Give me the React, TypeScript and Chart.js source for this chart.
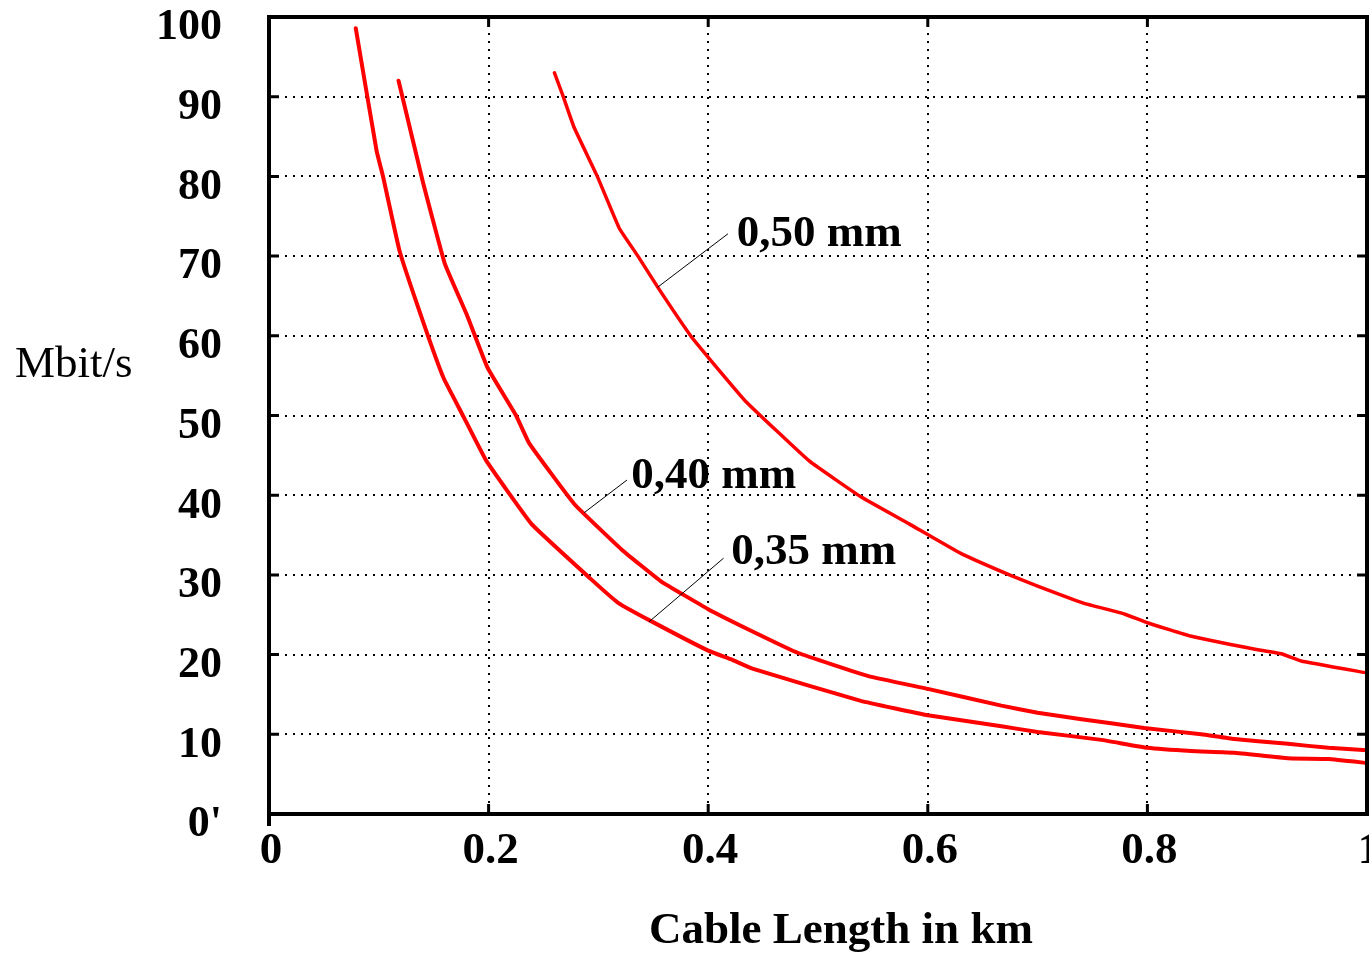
import React, { useEffect, useRef } from "react";
import { Chart, registerables } from "chart.js";

Chart.register(...registerables);

// ---- Axis ticks ----
const xTickValues = [0, 0.2, 0.4, 0.6, 0.8, 1];
const xTickLabels = ["0", "0.2", "0.4", "0.6", "0.8", "1"];
const yTickValues = [0, 10, 20, 30, 40, 50, 60, 70, 80, 90, 100];
const yTickLabels = ["0'", "10", "20", "30", "40", "50", "60", "70", "80", "90", "100"];

const xTitle = "Cable Length in km";
const yTitle = "Mbit/s";

// ---- Series (cable length in km -> data rate in Mbit/s) ----
const seriesNames = ["0,35 mm", "0,40 mm", "0,50 mm"];

const len035 = [0.079, 0.098, 0.104, 0.119, 0.141, 0.159, 0.177, 0.198, 0.239, 0.293, 0.318, 0.348, 0.4, 0.421, 0.441, 0.539, 0.6, 0.667, 0.7, 0.758, 0.8, 0.84, 0.879, 0.928, 0.965, 1.0];
const rate035 = [98.6, 83.2, 79.9, 70.6, 61.5, 54.7, 49.9, 44.3, 36.4, 29.5, 26.5, 24.2, 20.5, 19.4, 18.2, 14.2, 12.4, 11.0, 10.3, 9.3, 8.3, 7.9, 7.7, 7.0, 6.9, 6.4];

const len040 = [0.118, 0.14, 0.16, 0.18, 0.199, 0.225, 0.237, 0.278, 0.321, 0.357, 0.4, 0.439, 0.482, 0.546, 0.6, 0.667, 0.7, 0.74, 0.797, 0.849, 0.879, 0.928, 0.965, 1.0];
const rate040 = [92.0, 79.4, 69.1, 62.7, 56.0, 50.0, 46.5, 38.9, 33.2, 29.2, 25.7, 23.0, 20.2, 17.3, 15.7, 13.6, 12.7, 11.9, 10.8, 10.0, 9.4, 8.8, 8.3, 8.0];

const len050 = [0.26, 0.268, 0.278, 0.299, 0.319, 0.336, 0.354, 0.384, 0.4, 0.434, 0.492, 0.539, 0.583, 0.63, 0.676, 0.7, 0.741, 0.779, 0.8, 0.84, 0.897, 0.922, 0.94, 1.0];
const rate050 = [93.0, 90.0, 86.1, 80.0, 73.5, 70.0, 66.1, 60.0, 57.3, 51.8, 44.3, 39.8, 36.4, 32.7, 29.9, 28.6, 26.5, 25.1, 24.0, 22.3, 20.7, 20.1, 19.2, 17.7];

// ---- Curve labels with leader lines (data coordinates) ----
const labelTextX = [0.421, 0.33, 0.426];
const labelTextY = [31.4, 40.9, 71.3];
const leaderFromX = [0.414, 0.326, 0.418];
const leaderFromY = [32.1, 41.9, 72.8];
const leaderToX = [0.346, 0.287, 0.354];
const leaderToY = [24.1, 37.8, 66.1];

const FONT = "'Liberation Serif', 'Times New Roman', Times, serif";
const RED = "#ff0000";

function toPoints(xs: number[], ys: number[]) {
  return xs.map((x, i) => ({ x, y: ys[i] }));
}

const framePlugin = {
  id: "frame",
  afterDatasetsDraw(chart: any) {
    const { ctx, chartArea, scales } = chart;
    const { left, right, top, bottom } = chartArea;
    ctx.save();
    ctx.strokeStyle = "#000";
    ctx.lineWidth = 3;
    // inward major tick marks
    const tl = 10;
    xTickValues.forEach((v) => {
      if (v === xTickValues[0] || v === xTickValues[xTickValues.length - 1]) return;
      const px = scales.x.getPixelForValue(v);
      ctx.beginPath();
      ctx.moveTo(px, bottom);
      ctx.lineTo(px, bottom - tl);
      ctx.moveTo(px, top);
      ctx.lineTo(px, top + tl);
      ctx.stroke();
    });
    yTickValues.forEach((v) => {
      if (v === yTickValues[0] || v === yTickValues[yTickValues.length - 1]) return;
      const py = scales.y.getPixelForValue(v);
      ctx.beginPath();
      ctx.moveTo(left, py);
      ctx.lineTo(left + tl, py);
      ctx.moveTo(right, py);
      ctx.lineTo(right - tl, py);
      ctx.stroke();
    });
    // frame
    ctx.lineWidth = 4;
    ctx.beginPath();
    ctx.moveTo(left, top);
    ctx.lineTo(right, top);
    ctx.lineTo(right, bottom);
    ctx.lineTo(left, bottom);
    ctx.closePath();
    ctx.stroke();
    ctx.beginPath();
    ctx.moveTo(left, bottom);
    ctx.lineTo(left, bottom + 12);
    ctx.stroke();

    // leader lines
    ctx.lineWidth = 1;
    for (let i = 0; i < seriesNames.length; i++) {
      ctx.beginPath();
      ctx.moveTo(scales.x.getPixelForValue(leaderFromX[i]), scales.y.getPixelForValue(leaderFromY[i]));
      ctx.lineTo(scales.x.getPixelForValue(leaderToX[i]), scales.y.getPixelForValue(leaderToY[i]));
      ctx.stroke();
    }
    // curve labels
    ctx.fillStyle = "#000";
    ctx.font = `bold 45px ${FONT}`;
    ctx.textAlign = "left";
    ctx.textBaseline = "alphabetic";
    for (let i = 0; i < seriesNames.length; i++) {
      ctx.fillText(seriesNames[i], scales.x.getPixelForValue(labelTextX[i]), scales.y.getPixelForValue(labelTextY[i]));
    }
    ctx.restore();
  },
  afterDraw(chart: any) {
    const { ctx } = chart;
    ctx.save();
    ctx.fillStyle = "#000";
    ctx.textBaseline = "alphabetic";
    // y title, horizontal
    ctx.font = `normal 45px ${FONT}`;
    ctx.textAlign = "left";
    ctx.fillText(yTitle, 15, 377);
    // x title
    ctx.font = `bold 45px ${FONT}`;
    ctx.textAlign = "center";
    ctx.fillText(xTitle, 841, 943);
    ctx.restore();
  },
};

export default function App() {
  const canvasRef = useRef<HTMLCanvasElement | null>(null);

  useEffect(() => {
    const canvas = canvasRef.current;
    if (!canvas) return;
    const curveData = [
      toPoints(len035, rate035),
      toPoints(len040, rate040),
      toPoints(len050, rate050),
    ];
    const widths = [4, 4, 3.5];
    const chart = new Chart(canvas, {
      type: "scatter",
      data: {
        datasets: seriesNames.map((name, i) => ({
          label: name,
          data: curveData[i],
          showLine: true,
          borderColor: RED,
          backgroundColor: RED,
          borderWidth: widths[i],
          pointRadius: 0,
          pointHoverRadius: 0,
          tension: 0.1,
          borderCapStyle: "round",
          borderJoinStyle: "round",
        })),
      },
      options: {
        responsive: false,
        maintainAspectRatio: false,
        devicePixelRatio: 1,
        animation: false,
        events: [],
        layout: { padding: { left: 0, right: 2, top: 17, bottom: 0 } },
        plugins: {
          legend: { display: false },
          tooltip: { enabled: false },
          title: { display: false },
        },
        scales: {
          x: {
            type: "linear",
            min: 0,
            max: 1,
            afterBuildTicks: (scale: any) => {
              scale.ticks = xTickValues.map((v) => ({ value: v }));
            },
            afterFit: (scale: any) => {
              scale.height = 140;
              scale.paddingLeft = 0;
              scale.paddingRight = 0;
              scale.paddingTop = 0;
              scale.paddingBottom = 0;
            },
            ticks: {
              autoSkip: false,
              maxRotation: 0,
              minRotation: 0,
              padding: 10,
              labelOffset: 2,
              color: "#000",
              font: { family: FONT, size: 45, weight: "bold" },
              callback: (_v: any, i: number) => xTickLabels[i],
            },
            grid: {
              drawTicks: false,
              lineWidth: 2,
              color: (c: any) =>
                c.tick && (c.tick.value === xTickValues[0] || c.tick.value === xTickValues[xTickValues.length - 1])
                  ? "rgba(0,0,0,0)"
                  : "#000",
            },
            border: { display: false, dash: [2, 6] },
          },
          y: {
            type: "linear",
            min: 0,
            max: 100,
            afterBuildTicks: (scale: any) => {
              scale.ticks = yTickValues.map((v) => ({ value: v }));
            },
            afterFit: (scale: any) => {
              scale.width = 269;
              scale.paddingLeft = 0;
              scale.paddingRight = 0;
              scale.paddingTop = 0;
              scale.paddingBottom = 0;
            },
            ticks: {
              autoSkip: false,
              padding: 47,
              labelOffset: 11,
              color: "#000",
              font: { family: FONT, size: 44, weight: "bold" },
              callback: (_v: any, i: number) => yTickLabels[i],
            },
            grid: {
              drawTicks: false,
              lineWidth: 2,
              color: (c: any) =>
                c.tick && (c.tick.value === yTickValues[0] || c.tick.value === yTickValues[yTickValues.length - 1])
                  ? "rgba(0,0,0,0)"
                  : "#000",
            },
            border: { display: false, dash: [2, 6] },
          },
        },
      },
      plugins: [framePlugin],
    } as any);
    return () => chart.destroy();
  }, []);

  return (
    <div
      style={{
        position: "fixed",
        left: 0,
        top: 0,
        width: 1369,
        height: 954,
        overflow: "hidden",
        background: "#fff",
      }}
    >
      <canvas ref={canvasRef} width={1369} height={954} style={{ display: "block", width: 1369, height: 954 }} />
    </div>
  );
}
